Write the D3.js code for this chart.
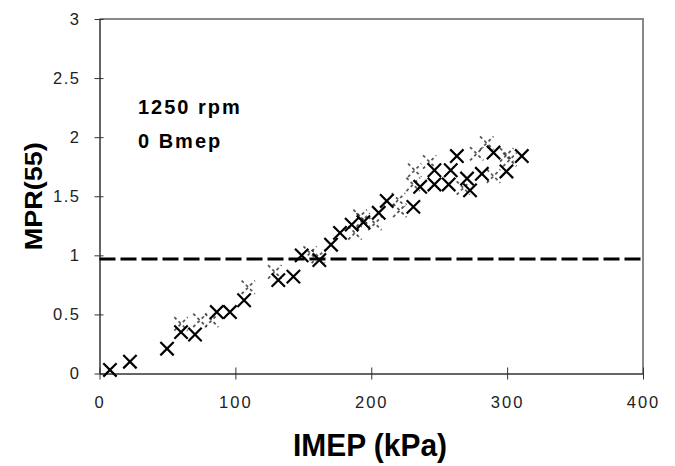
<!DOCTYPE html>
<html>
<head>
<meta charset="utf-8">
<script src="https://cdn.jsdelivr.net/npm/d3@7"></script>
<style>
  body { margin: 0; background: #fff; }
  text { font-family: "Liberation Sans", Arial, sans-serif; }
</style>
</head>
<body>
<div id="chart"></div>
<script>
// valeurs
const imep = [7.7, 22.4, 49.7, 60, 70.3, 86.3, 96, 106.4, 131.6, 142.7, 148.8, 161.8, 170.4, 177, 185.6, 194.2,
  205.5, 211.4, 231, 236, 246.5, 246.5, 257, 258.5, 263, 270.5, 272.7, 281.4, 290, 299.5, 310.8];
const mpr = [0.03, 0.10, 0.21, 0.35, 0.33, 0.52, 0.52, 0.62, 0.79, 0.82, 1.00, 0.96, 1.09, 1.19, 1.26, 1.28,
  1.36, 1.46, 1.41, 1.58, 1.60, 1.72, 1.60, 1.72, 1.84, 1.65, 1.55, 1.69, 1.87, 1.71, 1.84];

// marques pointillées (fantômes) derrière la série
const ghostImep = [60, 73.9, 82.6, 109.5, 129, 155, 161, 188, 191.8, 194, 202.7, 220, 221, 230.8, 232, 243,
  267.8, 277.6, 285, 290, 299.7, 302];
const ghostMpr = [0.42, 0.45, 0.45, 0.73, 0.86, 1.02, 0.99, 1.19, 1.33, 1.30, 1.27, 1.47, 1.38, 1.60, 1.72, 1.79,
  1.57, 1.86, 1.95, 1.67, 1.85, 1.81];

const limit = 0.97;
const xTicks = [0, 100, 200, 300, 400];
const yTicks = [0, 0.5, 1, 1.5, 2, 2.5, 3];
const notes = ['1250 rpm', '0 Bmep'];

const width = 675, height = 466;
const margin = { left: 99.5, right: 32, top: 19, bottom: 92.5 };

const svg = d3.select('#chart').append('svg')
  .attr('width', width)
  .attr('height', height);

const x = d3.scaleLinear().domain([0, 400]).range([margin.left, width - margin.right]);
const y = d3.scaleLinear().domain([0, 3]).range([height - margin.bottom, margin.top]);

// cadre gris (haut et droite)
svg.append('path')
  .attr('d', `M${x(0)},${y(3)}H${x(400)}V${y(0)}`)
  .attr('fill', 'none')
  .attr('stroke', '#888')
  .attr('stroke-width', 2);

// axe X
const xAxis = svg.append('g')
  .attr('transform', `translate(0,${y(0)})`)
  .call(d3.axisBottom(x).tickValues(xTicks).tickSizeInner(6).tickSizeOuter(0).tickPadding(17));
xAxis.select('.domain').attr('stroke', '#333').attr('stroke-width', 1.5);
xAxis.selectAll('.tick line').attr('stroke', '#333').attr('y1', -6);
xAxis.selectAll('text')
  .attr('font-size', 16.5).attr('fill', '#222').attr('letter-spacing', 2)
  .attr('font-family', '"Liberation Sans", Arial, sans-serif');

// axe Y
const yAxis = svg.append('g')
  .attr('transform', `translate(${x(0)},0)`)
  .call(d3.axisLeft(y).tickValues(yTicks).tickFormat(d3.format('')).tickSizeInner(5).tickSizeOuter(0).tickPadding(14));
yAxis.select('.domain').attr('stroke', '#333').attr('stroke-width', 1.5);
yAxis.selectAll('.tick line').attr('stroke', '#333').attr('x1', 4);
yAxis.selectAll('text')
  .attr('font-size', 16.5).attr('fill', '#222').attr('letter-spacing', 1.5)
  .attr('font-family', '"Liberation Sans", Arial, sans-serif');

// ligne horizontale en tirets
svg.append('line')
  .attr('x1', x(0)).attr('x2', x(400))
  .attr('y1', y(limit)).attr('y2', y(limit))
  .attr('stroke', '#000')
  .attr('stroke-width', 3)
  .attr('stroke-dasharray', '16,5');

const cross = d3.symbol(d3.symbolX).size(118);

// croix pointillées
svg.append('g')
  .selectAll('path')
  .data(d3.zip(ghostImep, ghostMpr))
  .enter().append('path')
  .attr('d', cross)
  .attr('transform', d => `translate(${x(d[0])},${y(d[1])})`)
  .attr('fill', 'none')
  .attr('stroke', '#111')
  .attr('stroke-width', 1.8)
  .attr('stroke-dasharray', '3,3')
  .attr('opacity', 0.7);

// croix de la série
svg.append('g')
  .selectAll('path')
  .data(d3.zip(imep, mpr))
  .enter().append('path')
  .attr('d', cross)
  .attr('transform', d => `translate(${x(d[0])},${y(d[1])})`)
  .attr('fill', 'none')
  .attr('stroke', '#000')
  .attr('stroke-width', 2.2);

// annotations
svg.append('g')
  .selectAll('text')
  .data(notes)
  .enter().append('text')
  .attr('x', 138)
  .attr('y', (d, i) => 114 + i * 34)
  .attr('font-size', 20)
  .attr('font-weight', 'bold')
  .attr('letter-spacing', 2)
  .text(d => d);

// titres des axes
svg.append('text')
  .attr('x', 293)
  .attr('y', 456)
  .attr('font-size', 31)
  .attr('font-weight', 'bold')
  .attr('textLength', 154)
  .attr('lengthAdjust', 'spacingAndGlyphs')
  .text('IMEP (kPa)');

svg.append('text')
  .attr('transform', `translate(42,${(y(0) + y(3)) / 2 + 54}) rotate(-90)`)
  .attr('font-size', 23)
  .attr('font-weight', 'bold')
  .attr('textLength', 108)
  .attr('lengthAdjust', 'spacingAndGlyphs')
  .text('MPR(55)');
</script>
</body>
</html>
